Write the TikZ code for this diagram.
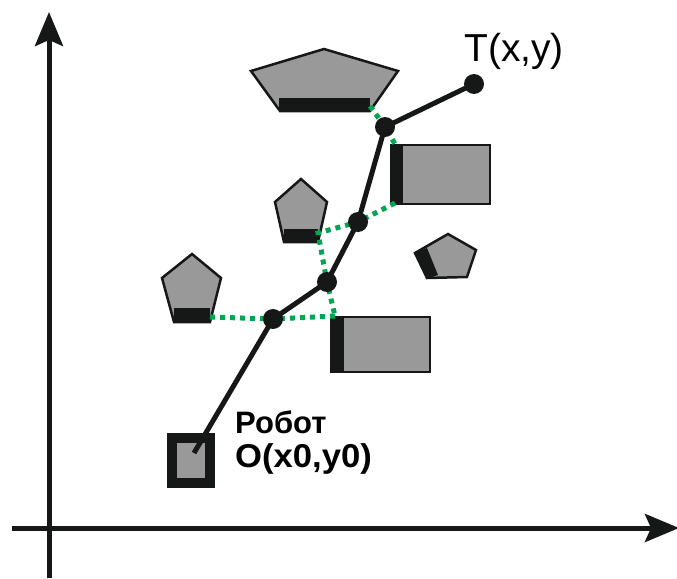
\documentclass[tikz,border=0pt]{standalone}
\usepackage{fontspec}
\setmainfont{Liberation Sans}
\usetikzlibrary{arrows.meta}
\definecolor{abu}{RGB}{153,153,153}
\definecolor{hitam}{RGB}{22,24,23}
\definecolor{hijau}{RGB}{0,166,81}
\newcommand{\simpul}[1]{\foreach \p in {#1} \fill[hitam] (\p) circle (10pt);}

\begin{document}
\begin{tikzpicture}[x=1pt,y=-1pt,
  rintangan/.style={draw=hitam,line width=2.5pt,fill=abu},
  sensor/.style={fill=hitam},
  sumbu/.style={hitam,line width=5pt,-{Stealth[length=34pt,width=28pt,inset=6pt]}},
  ukur/.style={hijau,line width=5pt,dash pattern=on 5pt off 5pt}]
  \useasboundingbox (0,0) rectangle (677,578);

  \coordinate (Y0) at (49,578);
  \coordinate (Y1) at (49,12);
  \coordinate (X0) at (12,528);
  \coordinate (X1) at (679,528);

  \coordinate (O)  at (194,453);
  \coordinate (P1) at (273,319);
  \coordinate (P2) at (327,282);
  \coordinate (P3) at (358,222);
  \coordinate (P4) at (385,127);
  \coordinate (T)  at (474,84);

  \coordinate (A1) at (370,106);
  \coordinate (A2) at (395,144);
  \coordinate (B1) at (395,203);
  \coordinate (B2) at (318,233);
  \coordinate (B3) at (335,316);
  \coordinate (C1) at (210,317);

  \draw[sumbu] (Y0) -- (Y1);
  \draw[sumbu] (X0) -- (X1);

  % robot
  \fill[hitam] (167,433) rectangle (215,488);
  \fill[abu] (177,443) rectangle (205,478);

  % rintangan
  \draw[rintangan] (324,49) -- (398,71) -- (370,111) -- (280,111) -- (251,71) -- cycle;
  \fill[sensor] (279,98) rectangle (370,112);
  \draw[rintangan] (301,179) -- (327,202) -- (318,242) -- (284,242) -- (275,202) -- cycle;
  \fill[sensor] (284,229) rectangle (318,243);
  \draw[rintangan] (192,254) -- (221,278) -- (210,322) -- (174,322) -- (162,278) -- cycle;
  \fill[sensor] (174,308) rectangle (210,322);
  \draw[rintangan] (448,234) -- (476,250) -- (467,277) -- (427,278) -- (415,253) -- cycle;
  \fill[sensor] (415,253) -- (427,248) -- (438,275) -- (427,279) -- cycle;
  \draw[rintangan] (391,145) rectangle (490,204);
  \fill[sensor] (390,144) rectangle (403,205);
  \draw[rintangan] (331,317) rectangle (430,372);
  \fill[sensor] (330,316) rectangle (344,373);

  \draw[ukur] (A1) -- (P4) -- (A2);
  \draw[ukur] (B1) -- (P3) -- (B2) -- (P2) -- (B3);
  \draw[ukur] (C1) -- (P1) -- (B3);

  \draw[hitam,line width=5pt] (O) -- (P1) -- (P2) -- (P3) -- (P4) -- (T);
  \simpul{P1,P2,P3,P4,T}

  \node[anchor=base west,inner sep=0pt,font=\fontsize{39}{39}\selectfont] (lT) at (464,62) {T(x,y)};
  \node[anchor=base west,inner sep=0pt,font=\bfseries\fontsize{31}{31}\selectfont] (lR) at (235,433) {Робот};
  \node[anchor=base west,inner sep=0pt,xscale=1.05,font=\bfseries\fontsize{33}{33}\selectfont] (lO) at (235,467) {O(x0,y0)};
\end{tikzpicture}
\end{document}
